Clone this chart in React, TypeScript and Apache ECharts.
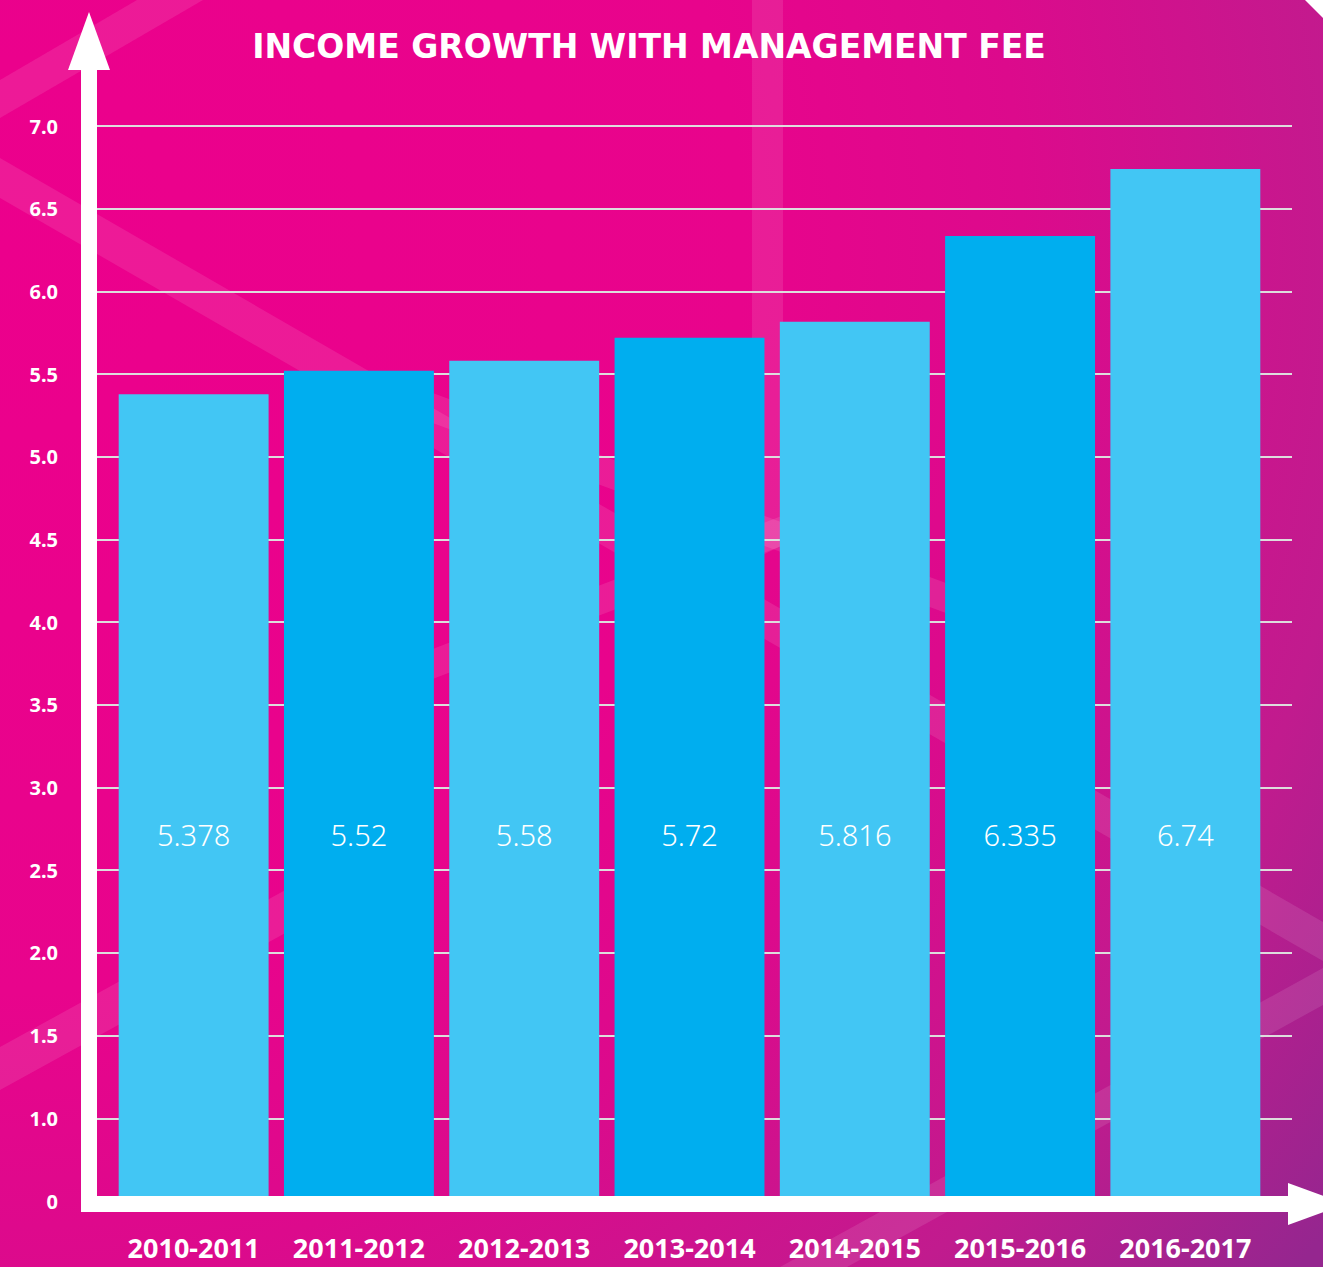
import React, { useEffect, useRef } from 'react';
import * as echarts from 'echarts';

// ---- data ----
const categories = ['2010-2011', '2011-2012', '2012-2013', '2013-2014', '2014-2015', '2015-2016', '2016-2017'];
const values = [5.378, 5.52, 5.58, 5.72, 5.816, 6.335, 6.74];
const axisMin = 0.5; // bottom of the drawn scale, labelled "0"
const axisMax = 7.0;
const axisStep = 0.5;
const barColors = ['#42c6f4', '#00aeef'];
const chartTitle = 'INCOME GROWTH WITH MANAGEMENT FEE';

const W = 1323;
const H = 1267;
const GRID_TOP = 126;
const GRID_BOTTOM = 66;

const stripe = 'rgba(255,255,255,0.1)';
const stripes: number[][][] = [
  [[0, 80], [137, 0], [203, 0], [0, 118]],
  [[0, 158], [1323, 922], [1323, 961], [0, 198]],
  [[780, 1267], [1323, 968], [1323, 1005], [847, 1267]],
  [[0, 1047], [400, 827], [400, 870], [0, 1090]],
  [[752, 0], [783, 0], [783, 545], [752, 560]],
  [[430, 392], [1000, 603], [1000, 633], [430, 422]],
  [[430, 650], [800, 509], [800, 539], [430, 680]],
];

export default function App() {
  const ref = useRef<HTMLDivElement>(null);
  useEffect(() => {
    if (!ref.current) return;
    const chart = echarts.init(ref.current, undefined, { renderer: 'svg', width: W, height: H });
    const graphics: any[] = [
      ...stripes.map((pts) => ({ type: 'polygon', z: 0, silent: true, shape: { points: pts }, style: { fill: stripe } })),
      { type: 'rect', z: 5, shape: { x: 81, y: 68, width: 16, height: 1144 }, style: { fill: '#ffffff' } },
      { type: 'polygon', z: 5, shape: { points: [[68, 70], [89, 12], [110, 70]] }, style: { fill: '#ffffff' } },
      { type: 'rect', z: 5, shape: { x: 81, y: 1196, width: 1210, height: 16 }, style: { fill: '#ffffff' } },
      { type: 'polygon', z: 5, shape: { points: [[1288, 1183], [1346, 1204], [1288, 1225]] }, style: { fill: '#ffffff' } },
      { type: 'polygon', z: 5, shape: { points: [[1305, 0], [1323, 0], [1323, 18]] }, style: { fill: '#ffffff' } },
    ];
    chart.setOption({
      animation: false,
      backgroundColor: 'transparent',
      title: {
        text: chartTitle,
        left: 649,
        textAlign: 'center',
        top: 30,
        padding: 0,
        textStyle: { color: '#ffffff', fontFamily: 'DejaVu Sans', fontWeight: 'bold', fontSize: 33 },
      },
      graphic: graphics,
      grid: [
        { left: 97, right: 31, top: GRID_TOP, bottom: GRID_BOTTOM },
        { left: 111, right: 55, top: GRID_TOP, bottom: GRID_BOTTOM },
      ],
      xAxis: [
        { gridIndex: 0, type: 'value', min: 0, max: 1, show: false },
        {
          gridIndex: 1,
          type: 'category',
          data: categories,
          axisLine: { show: false },
          axisTick: { show: false },
          axisLabel: {
            interval: 0,
            color: '#ffffff',
            fontFamily: 'Noto Sans',
            fontWeight: 'bold',
            fontSize: 27,
            lineHeight: 27,
            margin: 33,
          },
        },
      ],
      yAxis: [
        {
          gridIndex: 0,
          type: 'value',
          min: axisMin,
          max: axisMax,
          interval: axisStep,
          z: 1,
          axisLine: { show: false },
          axisTick: { show: false },
          splitLine: { show: true, lineStyle: { color: '#dddddd', width: 2 } },
          axisLabel: {
            color: '#ffffff',
            fontFamily: 'Noto Sans',
            fontWeight: 'bold',
            fontSize: 20,
            margin: 39,
            formatter: (v: number) => (Math.abs(v - axisMin) < 1e-9 ? '0' : v.toFixed(1)),
          },
        },
        { gridIndex: 1, type: 'value', min: axisMin, max: axisMax, interval: axisStep, show: false },
      ],
      series: [
        {
          type: 'bar',
          xAxisIndex: 1,
          yAxisIndex: 1,
          z: 2,
          barCategoryGap: '9.3%',
          data: values.map((v, i) => ({ value: v, itemStyle: { color: barColors[i % 2] } })),
          label: {
            show: true,
            position: 'insideBottom',
            distance: 352,
            color: '#ffffff',
            fontFamily: 'Noto Sans',
            fontWeight: 300,
            fontSize: 29,
            formatter: (p: any) => String(p.value),
          },
        },
      ],
    });
    return () => chart.dispose();
  }, []);
  return (
    <div
      ref={ref}
      style={{
        position: 'absolute',
        left: 0,
        top: 0,
        width: W,
        height: H,
        background:
          'radial-gradient(circle 1650px at 0px 250px, #ec008c 0%, #e8048c 45%, #dc0a8c 62%, #c11b8e 83%, #95268f 100%)',
      }}
    />
  );
}
